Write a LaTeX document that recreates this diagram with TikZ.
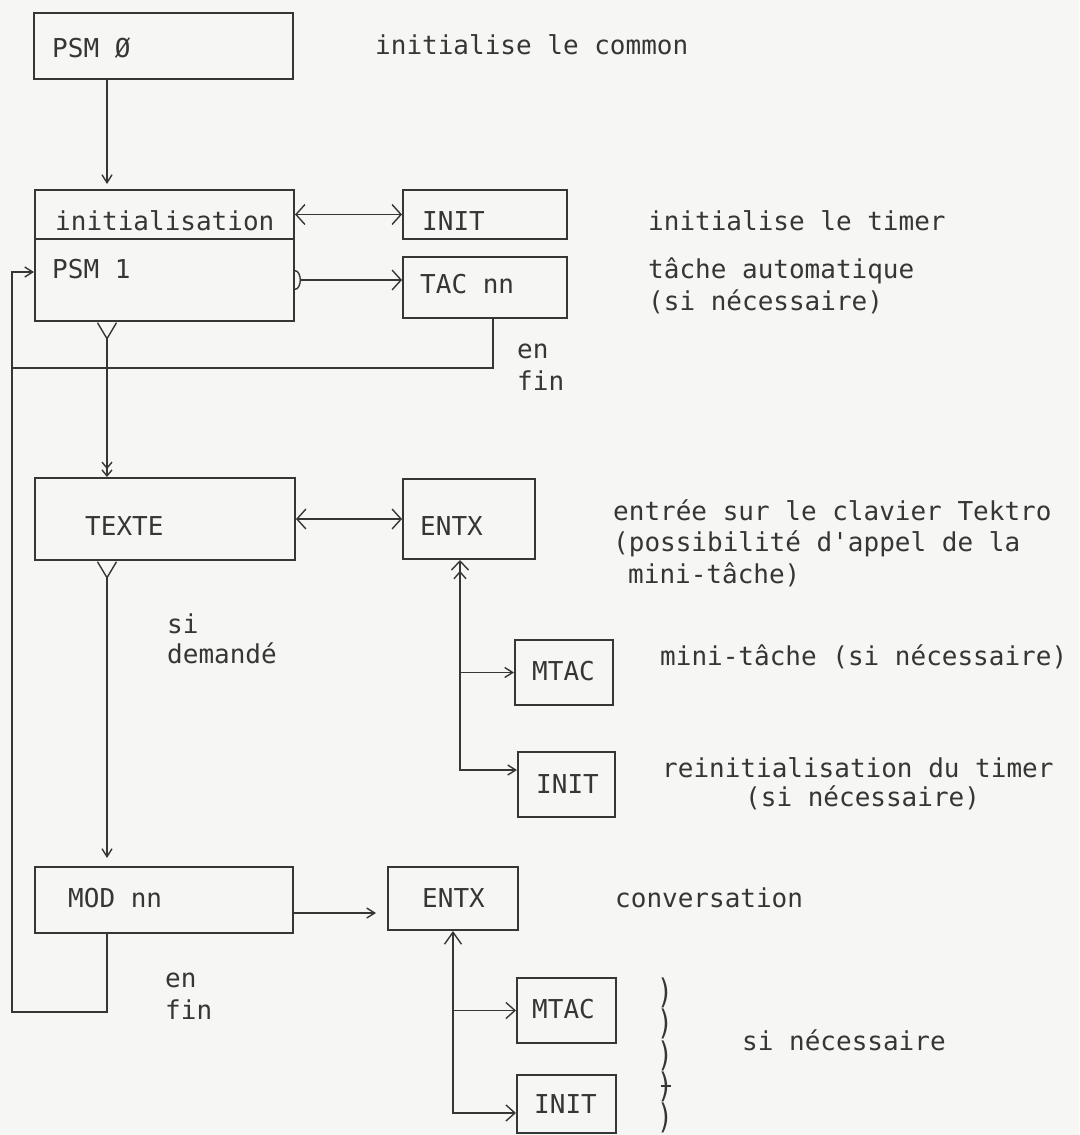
\documentclass[tikz,border=0pt]{standalone}
\usepackage{fontspec}
\newfontfamily\tw{DejaVu Sans Mono}
\usetikzlibrary{arrows.meta}
\definecolor{ink}{HTML}{363636}
\definecolor{paper}{HTML}{F6F6F4}
\begin{document}
\begin{tikzpicture}[x=1pt,y=-1pt,
  box/.style={draw=ink, line width=2pt, inner sep=0pt},
  txt/.style={anchor=base west, inner sep=0pt, text=ink, font=\tw\fontsize{26}{31}\selectfont},
  par/.style={anchor=north west, inner sep=0pt, text=ink, align=left, font=\tw\fontsize{26}{29}\selectfont},
  ln/.style={draw=ink, line width=1.4pt},
  arr/.style={ln, -{Straight Barb[length=8pt,width=10pt]}},
  dbl/.style={ln, {Straight Barb[length=9pt,width=20pt]}-{Straight Barb[length=9pt,width=20pt]}},
  tailv/.style={ln, {Straight Barb[reversed,length=16pt,width=19pt]}-{Straight Barb[length=8pt,width=10pt]}}
]
\fill[paper] (0,0) rectangle (1079,1135);
\useasboundingbox (0,0) rectangle (1079,1135);

% boxes
\node[box, minimum width=259pt, minimum height=66pt] (psm0) at (163.5,46) {};
\node[box, minimum width=259pt, minimum height=49pt] (initb) at (164.5,214.5) {};
\node[box, minimum width=259pt, minimum height=82pt] (psm1) at (164.5,280) {};
\node[box, minimum width=164pt, minimum height=49pt] (ini1) at (485,214.5) {};
\node[box, minimum width=164pt, minimum height=61pt] (tac) at (485,287.5) {};
\node[box, minimum width=260pt, minimum height=82pt] (texte) at (165,519) {};
\node[box, minimum width=132pt, minimum height=80pt] (entx1) at (469,519) {};
\node[box, minimum width=98pt, minimum height=65pt] (mtac1) at (564,672.5) {};
\node[box, minimum width=97pt, minimum height=65pt] (ini2) at (566.5,784.5) {};
\node[box, minimum width=258pt, minimum height=66pt] (mod) at (164,900) {};
\node[box, minimum width=130pt, minimum height=63pt] (entx2) at (453,898.5) {};
\node[box, minimum width=99pt, minimum height=65pt] (mtac2) at (566.5,1010.5) {};
\node[box, minimum width=99pt, minimum height=58pt] (ini3) at (566.5,1104) {};

% box labels
\node[txt] (tpsm0) at (52,57) {PSM Ø};
\node[txt] (tinitb) at (55,230) {initialisation};
\node[txt] (tpsm1) at (52,278) {PSM 1};
\node[txt] (tini1) at (422,230) {INIT};
\node[txt] (ttac) at (420,293) {TAC nn};
\node[txt] (ttexte) at (85,535) {TEXTE};
\node[txt] (tentx1) at (420,535) {ENTX};
\node[txt] (tmtac1) at (532,680) {MTAC};
\node[txt] (tini2) at (536,793) {INIT};
\node[txt] (tmod) at (68,907) {MOD nn};
\node[txt] (tentx2) at (422,907) {ENTX};
\node[txt] (tmtac2) at (532,1018) {MTAC};
\node[txt] (tini3) at (534,1113) {INIT};

% descriptions
\node[txt] (d1) at (375,54) {initialise le common};
\node[txt] (d2) at (648,230) {initialise le timer};
\node[txt] (d3a) at (648,278) {tâche automatique};
\node[txt] (d3b) at (648,310) {(si nécessaire)};
\node[txt] (en1) at (517,358) {en};
\node[txt] (fin1) at (517,390) {fin};
\node[txt] (d4a) at (613,520) {entrée sur le clavier Tektro};
\node[txt] (d4b) at (613,551) {(possibilité d'appel de la};
\node[txt] (d4c) at (628,583) {mini-tâche)};
\node[txt] (si) at (167,633) {si};
\node[txt] (dem) at (167,663) {demandé};
\node[txt] (d5) at (660,665) {mini-tâche (si nécessaire)};
\node[txt] (d6a) at (662,777) {reinitialisation du timer};
\node[txt] (d6b) at (745,806) {(si nécessaire)};
\node[txt] (d7) at (615,907) {conversation};
\node[txt] (en2) at (165,987) {en};
\node[txt] (fin2) at (165,1019) {fin};
\node[txt] (d8) at (742,1050) {si nécessaire};
\node[par] (parens) at (657,978) {\scalebox{1}[1.3]{)}\\\scalebox{1}[1.3]{)}\\\scalebox{1}[1.3]{)}\\\scalebox{1}[1.3]{)}\\\scalebox{1}[1.3]{)}};
\draw[ln] (661,1086) -- (671,1086);

% connectors
\coordinate (cA) at (107,0);
\draw[arr, shorten >=5pt] (psm0.south -| cA) -- (initb.north -| cA);
\draw[dbl] (initb.east) -- (ini1.west);
\draw[ln, {Arc Barb[reversed,length=6pt,width=20pt]}-{Straight Barb[length=9pt,width=20pt]}] (psm1.east) -- (psm1.east -| tac.west);
\draw[ln, {Straight Barb[reversed,length=16pt,width=19pt]}-{Straight Barb[length=6pt,width=10pt] Straight Barb[length=6pt,width=10pt]}] (psm1.south -| cA) -- (texte.north -| cA);

\coordinate (tl) at (493,368);
\coordinate (L1) at (12,368);
\draw[ln] (tac.south -| tl) -- (tl) -- (L1);

\coordinate (L2) at (12,1012);
\coordinate (Lin) at (12,272);
\draw[arr] (mod.south -| cA) |- (L2) -- (Lin) -- (Lin -| psm1.west);

\draw[dbl] (texte.east) -- (entx1.west);
\draw[tailv, shorten >=8pt] (texte.south -| cA) -- (mod.north -| cA);

\coordinate (v1) at (460,0);
\coordinate (b1) at (460,770);
\draw[ln, {Straight Barb[length=9pt,width=17pt] Straight Barb[length=7pt,width=12pt]}-{Straight Barb[length=8pt,width=10pt]}] (entx1.south -| v1) -- (b1) -- (b1 -| ini2.west);
\draw[arr] (v1 |- mtac1.west) -- (mtac1.west);

\coordinate (m1) at (0,913);
\draw[arr, shorten >=11pt] (mod.east |- m1) -- (entx2.west |- m1);

\coordinate (v2) at (453,0);
\coordinate (b2) at (453,1113);
\draw[ln, {Straight Barb[length=12pt,width=17pt]}-{Straight Barb[length=9pt,width=16pt]}] (entx2.south -| v2) -- (b2) -- (b2 -| ini3.west);
\draw[ln, -{Straight Barb[length=9pt,width=16pt]}] (v2 |- mtac2.west) -- (mtac2.west);
\end{tikzpicture}
\end{document}
